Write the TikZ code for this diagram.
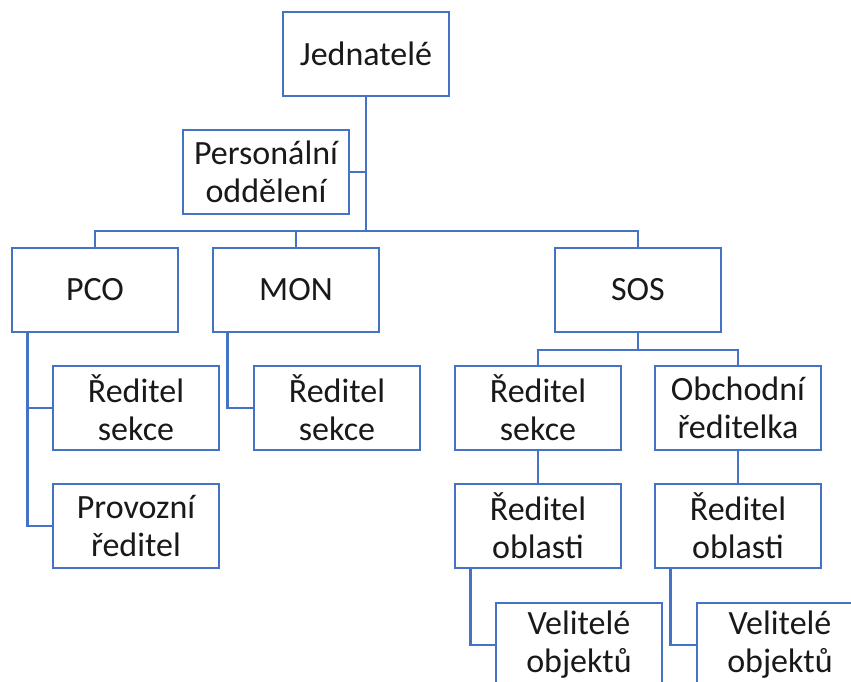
\documentclass[tikz,border=0pt]{standalone}
\usepackage{fontspec}
\setmainfont{Carlito}
\usepackage{tikz}
\usetikzlibrary{calc}
\definecolor{orgblue}{HTML}{4472C4}
\tikzset{
  box/.style={draw=orgblue, line width=2.8pt, fill=white, minimum width=166pt, minimum height=84pt,
    inner sep=0pt, align=center, font=\fontsize{34}{38}\selectfont, text=black!90},
  link/.style={draw=orgblue, line width=2.8pt}
}
\begin{document}
\begin{tikzpicture}[x=1pt, y=-1pt]
    \useasboundingbox (0,0) rectangle (851,681);
    \clip (0,0) rectangle (851,681);
    \coordinate (bus) at (0,231);
    \coordinate (sosbus) at (0,350);

    \node[box] (jed)  at (366,54)  {Jednatelé};
    \node[box] (pers) at (266,172) {Personální\\oddělení};
    \node[box] (pco)  at (95,290)  {PCO};
    \node[box] (mon)  at (296,290) {MON};
    \node[box] (sos)  at (638,290) {SOS};
    \node[box] (rs1)  at (136,408) {Ředitel\\sekce};
    \node[box] (prov) at (136,526) {Provozní\\ředitel};
    \node[box] (rs2)  at (337,408) {Ředitel\\sekce};
    \node[box] (rs3)  at (538,408) {Ředitel\\sekce};
    \node[box] (obch) at (738,408) {Obchodní\\ředitelka};
    \node[box] (ro1)  at (538,526) {Ředitel\\oblasti};
    \node[box] (ro2)  at (738,526) {Ředitel\\oblasti};
    \node[box] (vel1) at (579,645) {Velitelé\\objektů};
    \node[box] (vel2) at (780,645) {Velitelé\\objektů};

    \draw[link] (jed.south) -- (jed.south |- bus);
    \draw[link] (jed.south |- pers.east) -- (pers.east);
    \draw[link] (pco.north) -- (pco.north |- bus) -| (sos.north);
    \draw[link] (mon.north) -- (mon.north |- bus);
    \draw[link] ([xshift=17pt]pco.south west) |- (rs1.west);
    \draw[link] ([xshift=17pt]pco.south west) |- (prov.west);
    \draw[link] ([xshift=16pt]mon.south west) |- (rs2.west);
    \draw[link] (sos.south) -- (sos.south |- sosbus);
    \draw[link] (rs3.north) -- (rs3.north |- sosbus) -| (obch.north);
    \draw[link] (rs3.south) -- (ro1.north);
    \draw[link] (obch.south) -- (ro2.north);
    \draw[link] ([xshift=17pt]ro1.south west) |- (vel1.west);
    \draw[link] ([xshift=17pt]ro2.south west) |- (vel2.west);
\end{tikzpicture}
\end{document}
